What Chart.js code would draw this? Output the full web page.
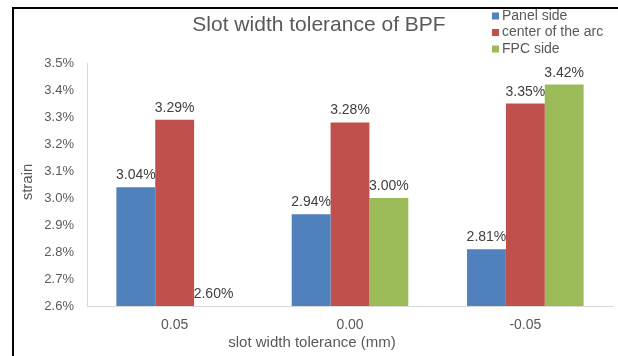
<!DOCTYPE html>
<html>
<head>
<meta charset="utf-8">
<script src="https://cdn.jsdelivr.net/npm/chart.js@4/dist/chart.umd.min.js"></script>
<style>
  html, body { margin: 0; padding: 0; background: #ffffff; }
  #wrap { width: 618px; height: 356px; }
</style>
</head>
<body>
<div id="wrap"><canvas id="c" width="618" height="356"></canvas></div>
<script>
// Slot width tolerance categories (mm)
const categories = ['0.05', '0.00', '-0.05'];

// Strain values (%) per measuring position
const panelSide = [3.04, 2.94, 2.81];
const arcCenter = [3.29, 3.28, 3.35];
const fpcSide = [2.60, 3.00, 3.42];

const seriesNames = ['Panel side', 'center of the arc', 'FPC side'];

// Strain axis range and step (%)
const yMin = 2.6;
const yMax = 3.5;
const yStep = 0.1;

const TEXT = '#595959';
const FONT = 'Liberation Sans, Arial, sans-serif';
const COLORS = ['#4F81BD', '#C0504D', '#9BBB59'];

// Outer frame lines (top and left edges)
const framePlugin = {
  id: 'frame',
  afterDraw(chart) {
    const ctx = chart.ctx;
    ctx.save();
    ctx.strokeStyle = '#000000';
    ctx.lineWidth = 2;
    ctx.beginPath();
    ctx.moveTo(13, 356);
    ctx.lineTo(13, 8);
    ctx.lineTo(618, 8);
    ctx.stroke();
    ctx.restore();
  }
};

// Chart title, legend and axis titles
const headerPlugin = {
  id: 'header',
  afterDraw(chart) {
    const ctx = chart.ctx;
    ctx.save();
    ctx.fillStyle = TEXT;
    ctx.font = '21px ' + FONT;
    ctx.textAlign = 'center';
    ctx.textBaseline = 'alphabetic';
    ctx.fillText('Slot width tolerance of BPF', 319, 31);

    // legend
    ctx.font = '14px ' + FONT;
    ctx.textAlign = 'left';
    ctx.textBaseline = 'middle';
    chart.data.datasets.forEach((ds, i) => {
      const y = 16 + i * 16.5;
      ctx.fillStyle = ds.backgroundColor;
      ctx.fillRect(492, y - 3.5, 7, 7);
      ctx.fillStyle = TEXT;
      ctx.fillText(ds.label, 502, y);
    });

    // x axis title
    ctx.font = '15px ' + FONT;
    ctx.textAlign = 'center';
    ctx.fillText('slot width tolerance (mm)', 312, 343);

    // y axis title
    ctx.translate(28, 182);
    ctx.rotate(-Math.PI / 2);
    ctx.fillText('strain', 0, 0);
    ctx.restore();
  }
};

// Value labels above each bar
const valueLabelPlugin = {
  id: 'valueLabels',
  afterDatasetsDraw(chart) {
    const ctx = chart.ctx;
    ctx.save();
    ctx.fillStyle = '#404040';
    ctx.font = '14px ' + FONT;
    ctx.textAlign = 'center';
    ctx.textBaseline = 'alphabetic';
    chart.data.datasets.forEach((ds, i) => {
      const meta = chart.getDatasetMeta(i);
      meta.data.forEach((bar, j) => {
        const v = ds.data[j];
        ctx.fillText(v.toFixed(2) + '%', bar.x, bar.y - 8);
      });
    });
    ctx.restore();
  }
};

new Chart(document.getElementById('c'), {
  type: 'bar',
  data: {
    labels: categories,
    datasets: [
      { label: seriesNames[0], data: panelSide, backgroundColor: COLORS[0] },
      { label: seriesNames[1], data: arcCenter, backgroundColor: COLORS[1] },
      { label: seriesNames[2], data: fpcSide, backgroundColor: COLORS[2] }
    ]
  },
  options: {
    responsive: false,
    animation: false,
    devicePixelRatio: 1,
    layout: { padding: { left: 14, top: 63, right: 5, bottom: 0 } },
    datasets: {
      bar: { barPercentage: 1.0, categoryPercentage: 0.665 }
    },
    plugins: {
      legend: { display: false },
      title: { display: false },
      tooltip: { enabled: false }
    },
    scales: {
      x: {
        grid: { display: false, drawTicks: false },
        border: { display: true, color: '#D9D9D9', width: 1 },
        ticks: { color: TEXT, font: { family: FONT, size: 14 }, padding: 11 },
        afterFit(scale) { scale.height = 50; }
      },
      y: {
        min: yMin,
        max: yMax,
        grid: { display: false, drawTicks: false },
        border: { display: true, color: '#D9D9D9', width: 1 },
        ticks: {
          stepSize: yStep,
          color: TEXT,
          font: { family: FONT, size: 13 },
          padding: 13,
          callback: (v) => v.toFixed(1) + '%'
        },
        afterFit(scale) { scale.width = 73; }
      }
    }
  },
  plugins: [framePlugin, headerPlugin, valueLabelPlugin]
});
</script>
</body>
</html>
